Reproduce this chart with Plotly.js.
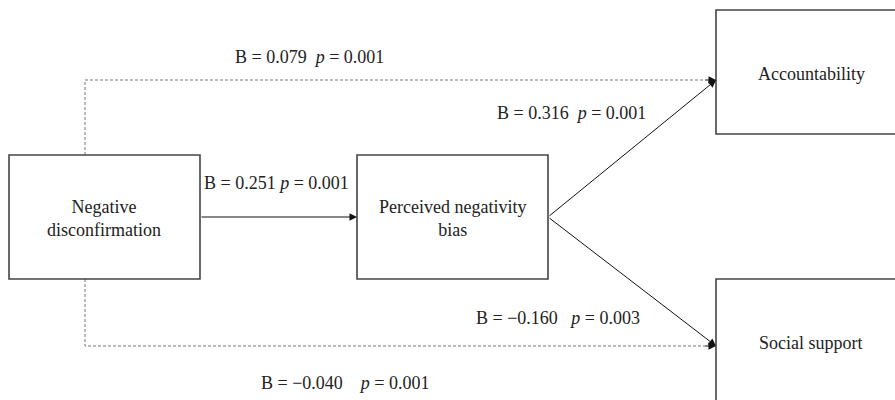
<!DOCTYPE html>
<html>
<head>
<meta charset="utf-8">
<script src="https://cdn.plot.ly/plotly-3.0.1.min.js"></script>
<style>html,body{margin:0;padding:0;background:#fff;}#chart{width:895px;height:400px;}</style>
</head>
<body>
<div id="chart"></div>
<script>
// ---- data ----
const nodeLabels = ['Negative<br>disconfirmation', 'Perceived negativity<br>bias', 'Accountability', 'Social support'];
const pathB = ['0.079', '0.251', '0.316', '\u22120.160', '\u22120.040'];
const pathP = ['0.001', '0.001', '0.001', '0.003', '0.001'];
const pathGap = ['\u00a0', '', '\u00a0', '\u00a0\u00a0', '\u00a0\u00a0\u00a0'];

// ---- layout geometry ----
const boxes = [
  {x0: 9, x1: 200, y0: 155, y1: 279},
  {x0: 357, x1: 548, y0: 155, y1: 279},
  {x0: 716, x1: 910, y0: 10, y1: 134},
  {x0: 716, x1: 910, y0: 279, y1: 410}
];
const labelPos = [[104, 218], [452, 218], [811, 74], [811, 343]];
const coefPos = [[309, 57], [276, 183], [571, 113], [558, 318], [345, 383]];

const fam = 'Liberation Serif, Times New Roman, serif';
const font = {family: fam, size: 18, color: '#222'};
const shapes = boxes.map(b => ({type: 'rect', xref: 'x', yref: 'y', x0: b.x0, x1: b.x1, y0: b.y0, y1: b.y1,
  line: {color: '#444', width: 1.6}, fillcolor: 'rgba(0,0,0,0)'}));

const traces = [
  // dashed direct paths
  {x: [85, 85, 706], y: [155, 80, 80], mode: 'lines', line: {color: '#777', width: 1, dash: '3px,2px'}, hoverinfo: 'skip'},
  {x: [85, 85, 706], y: [279, 346, 346], mode: 'lines', line: {color: '#777', width: 1, dash: '3px,2px'}, hoverinfo: 'skip'}
];

const ann = [];
nodeLabels.forEach((t, i) => ann.push({x: labelPos[i][0], y: labelPos[i][1], xref: 'x', yref: 'y', text: t,
  showarrow: false, font: font, align: 'center'}));
pathB.forEach((b, i) => ann.push({x: coefPos[i][0], y: coefPos[i][1], xref: 'x', yref: 'y',
  text: 'B = ' + b + pathGap[i] + ' <i>p</i> = ' + pathP[i], showarrow: false, font: font}));

const arrows = [
  [200, 217, 357, 217],
  [548, 217, 716, 80],
  [548, 217, 716, 346],
  [704, 80, 716, 80],
  [704, 346, 716, 346]
];
arrows.forEach(a => ann.push({x: a[2], y: a[3], ax: a[0], ay: a[1], xref: 'x', yref: 'y', axref: 'x', ayref: 'y',
  text: '', showarrow: true, arrowhead: 2, arrowsize: 1.5, arrowwidth: 1, arrowcolor: '#111', standoff: 0, startstandoff: 0}));

const layout = {
  width: 895, height: 400,
  margin: {l: 0, r: 0, t: 0, b: 0},
  paper_bgcolor: '#fff', plot_bgcolor: '#fff',
  showlegend: false,
  font: {family: fam},
  xaxis: {range: [0, 895], visible: false, fixedrange: true},
  yaxis: {range: [400, 0], visible: false, fixedrange: true},
  shapes: shapes,
  annotations: ann
};
Plotly.newPlot('chart', traces, layout, {staticPlot: true, displayModeBar: false});
</script>
</body>
</html>
